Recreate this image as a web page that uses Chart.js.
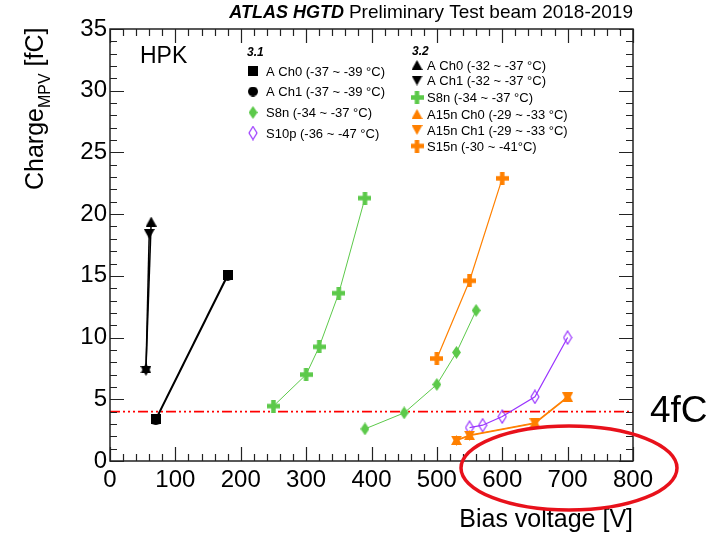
<!DOCTYPE html>
<html>
<head>
<meta charset="utf-8">
<script src="https://cdn.jsdelivr.net/npm/chart.js@4.4.0/dist/chart.umd.min.js"></script>
<style>
  html, body { margin: 0; padding: 0; background: #fff; }
  #wrap { width: 717px; height: 534px; }
</style>
</head>
<body>
<div id="wrap"><canvas id="chargeChart" width="717" height="534"></canvas></div>
<script>
// tick values
const xTickValues = [0, 100, 200, 300, 400, 500, 600, 700, 800];
const yTickValues = [0, 5, 10, 15, 20, 25, 30, 35];

// HPK 3.1 sensors (bias voltage [V], charge MPV [fC])
const a31Ch0V = [70, 180];
const a31Ch0Q = [3.4, 15.1];
const a31Ch1V = [70, 180];
const a31Ch1Q = [3.3, 15.0];
const s8n31V = [390, 450, 500, 530, 560];
const s8n31Q = [2.6, 3.9, 6.2, 8.8, 12.2];
const s10p31V = [550, 570, 600, 650, 700];
const s10p31Q = [2.7, 2.9, 3.6, 5.2, 10.0];

// HPK 3.2 sensors
const a32Ch0V = [55, 63];
const a32Ch0Q = [7.5, 19.4];
const a32Ch1V = [55, 60];
const a32Ch1Q = [7.3, 18.4];
const s8n32V = [250, 300, 320, 350, 390];
const s8n32Q = [4.45, 7.0, 9.25, 13.6, 21.3];
const a15Ch0V = [530, 550, 650, 700];
const a15Ch0Q = [1.7, 2.1, 3.1, 5.2];
const a15Ch1V = [530, 550, 650, 700];
const a15Ch1Q = [1.65, 2.05, 3.05, 5.15];
const s15nV = [500, 550, 600];
const s15nQ = [8.3, 14.6, 22.9];

// 4 fC threshold
const thresholdV = [0, 800];
const thresholdQ = [4, 4];

const GREEN = '#5cc94a';
const ORANGE = '#ff8000';
const PURPLE = '#9933ff';
const BLACK = '#000000';

// marker images, ROOT-like shapes
function makeMarker(kind, color) {
    const c = document.createElement('canvas');
    let w = 10, h = 10;
    if (kind === 'plus') { w = 13; h = 13; }
    if (kind === 'diamond') { w = 9; h = 13; }
    if (kind === 'diamondOpen') { w = 10; h = 15; }
    if (kind === 'triUp' || kind === 'triDown') { w = 11; h = 10; }
    c.width = w; c.height = h;
    const g = c.getContext('2d');
    g.fillStyle = color;
    g.strokeStyle = color;
    g.beginPath();
    if (kind === 'square') {
        g.rect(0, 0, w, h);
        g.fill();
    } else if (kind === 'circle') {
        g.arc(w / 2, h / 2, w / 2, 0, Math.PI * 2);
        g.fill();
    } else if (kind === 'plus') {
        g.rect(0, 4.25, w, 4.5);
        g.rect(4.25, 0, 4.5, h);
        g.fill();
    } else if (kind === 'diamond') {
        g.moveTo(w / 2, 0); g.lineTo(w, h / 2); g.lineTo(w / 2, h); g.lineTo(0, h / 2);
        g.closePath(); g.fill();
    } else if (kind === 'diamondOpen') {
        g.lineWidth = 1.2;
        g.moveTo(w / 2, 1); g.lineTo(w - 1, h / 2); g.lineTo(w / 2, h - 1); g.lineTo(1, h / 2);
        g.closePath(); g.stroke();
    } else if (kind === 'triUp') {
        g.moveTo(w / 2, 0); g.lineTo(w, h); g.lineTo(0, h);
        g.closePath(); g.fill();
    } else if (kind === 'triDown') {
        g.moveTo(0, 0); g.lineTo(w, 0); g.lineTo(w / 2, h);
        g.closePath(); g.fill();
    }
    return c;
}

const mk = {
    sqBlack: makeMarker('square', BLACK),
    circBlack: makeMarker('circle', BLACK),
    diaGreen: makeMarker('diamond', GREEN),
    diaPurple: makeMarker('diamondOpen', PURPLE),
    upBlack: makeMarker('triUp', BLACK),
    downBlack: makeMarker('triDown', BLACK),
    plusGreen: makeMarker('plus', GREEN),
    upOrange: makeMarker('triUp', ORANGE),
    downOrange: makeMarker('triDown', ORANGE),
    plusOrange: makeMarker('plus', ORANGE)
};

function pts(v, q) {
    return v.map((x, i) => ({ x: x, y: q[i] }));
}

function series(v, q, color, marker, width) {
    return {
        data: pts(v, q),
        showLine: true,
        borderColor: color,
        backgroundColor: color,
        borderWidth: width,
        pointStyle: marker,
        pointRadius: 6,
        pointHoverRadius: 6
    };
}

const legend31 = [
    [mk.sqBlack, 'A Ch0 (-37 ~ -39 \u00B0C)'],
    [mk.circBlack, 'A Ch1 (-37 ~ -39 \u00B0C)'],
    [mk.diaGreen, 'S8n (-34 ~ -37 \u00B0C)'],
    [mk.diaPurple, 'S10p (-36 ~ -47 \u00B0C)']
];
const legend32 = [
    [mk.upBlack, 'A Ch0 (-32 ~ -37 \u00B0C)'],
    [mk.downBlack, 'A Ch1 (-32 ~ -37 \u00B0C)'],
    [mk.plusGreen, 'S8n (-34 ~ -37 \u00B0C)'],
    [mk.upOrange, 'A15n Ch0 (-29 ~ -33 \u00B0C)'],
    [mk.downOrange, 'A15n Ch1 (-29 ~ -33 \u00B0C)'],
    [mk.plusOrange, 'S15n (-30 ~ -41\u00B0C)']
];

const FONT = '"Liberation Sans", Arial, Helvetica, sans-serif';

// frame, inner ticks, texts, legend and the annotation ellipse
const decorations = {
    id: 'decorations',
    afterDraw(chart) {
        const ctx = chart.ctx;
        const a = chart.chartArea;
        const xs = chart.scales.x, ys = chart.scales.y;
        ctx.save();

        // ticks on all four sides
        ctx.strokeStyle = '#222';
        ctx.lineWidth = 1.2;
        ctx.beginPath();
        for (let v = 0; v <= 800; v += 20) {
            const px = Math.round(xs.getPixelForValue(v)) + 0.5;
            const len = v % 100 === 0 ? 14 : 7;
            ctx.moveTo(px, a.bottom); ctx.lineTo(px, a.bottom - len);
            ctx.moveTo(px, a.top); ctx.lineTo(px, a.top + len);
        }
        for (let v = 0; v <= 35; v += 1) {
            const py = Math.round(ys.getPixelForValue(v)) + 0.5;
            const len = v % 5 === 0 ? 14 : 7;
            ctx.moveTo(a.left, py); ctx.lineTo(a.left + len, py);
            ctx.moveTo(a.right, py); ctx.lineTo(a.right - len, py);
        }
        ctx.stroke();
        ctx.lineWidth = 1.5;
        ctx.strokeRect(a.left, a.top, a.right - a.left, a.bottom - a.top);

        // title
        ctx.fillStyle = '#000';
        ctx.textBaseline = 'alphabetic';
        ctx.textAlign = 'right';
        ctx.font = '19px ' + FONT;
        const rest = 'Preliminary Test beam 2018-2019';
        ctx.fillText(rest, a.right, 18);
        const restW = ctx.measureText(rest).width;
        ctx.font = 'italic bold 18px ' + FONT;
        ctx.fillText('ATLAS HGTD', a.right - restW - 5, 18);

        // HPK
        ctx.textAlign = 'left';
        ctx.font = '23px ' + FONT;
        ctx.fillText('HPK', 140, 63);

        // legend headers
        ctx.font = 'italic bold 12px ' + FONT;
        ctx.fillText('3.1', 247, 56);
        ctx.fillText('3.2', 412, 55);

        // legend rows
        ctx.font = '13px ' + FONT;
        ctx.textBaseline = 'middle';
        const rows31 = [71, 91.5, 112.5, 133];
        legend31.forEach((r, i) => {
            const m = r[0];
            ctx.drawImage(m, 253 - m.width / 2, rows31[i] - m.height / 2);
            ctx.fillText(r[1], 266, rows31[i] + 1);
        });
        const rows32 = [65, 80.5, 97.5, 114, 130, 146];
        legend32.forEach((r, i) => {
            const m = r[0];
            ctx.drawImage(m, 417 - m.width / 2, rows32[i] - m.height / 2);
            ctx.fillText(r[1], 427, rows32[i] + 1);
        });

        // axis titles
        ctx.textBaseline = 'alphabetic';
        ctx.textAlign = 'right';
        ctx.font = '25px ' + FONT;
        ctx.fillText('Bias voltage [V]', a.right, 527);

        ctx.save();
        ctx.translate(43, 190);
        ctx.rotate(-Math.PI / 2);
        ctx.textAlign = 'left';
        ctx.font = '25px ' + FONT;
        ctx.fillText('Charge', 0, 0);
        let off = ctx.measureText('Charge').width;
        ctx.font = '16px ' + FONT;
        ctx.fillText('MPV', off, 7);
        off += ctx.measureText('MPV').width;
        ctx.font = '25px ' + FONT;
        ctx.fillText(' [fC]', off, 0);
        ctx.restore();

        // annotation
        ctx.textAlign = 'left';
        ctx.font = '37px ' + FONT;
        ctx.fillText('4fC', 650, 422);

        ctx.strokeStyle = '#e8111b';
        ctx.lineWidth = 3.5;
        ctx.beginPath();
        ctx.ellipse(569, 468, 108, 42, 0, 0, Math.PI * 2);
        ctx.stroke();

        ctx.restore();
    }
};

const ctx = document.getElementById('chargeChart').getContext('2d');
const chargeChart = new Chart(ctx, {
    type: 'scatter',
    data: {
        datasets: [
            series(a32Ch0V, a32Ch0Q, BLACK, mk.upBlack, 1.5),
            series(a32Ch1V, a32Ch1Q, BLACK, mk.downBlack, 1.5),
            series(a31Ch0V, a31Ch0Q, BLACK, mk.sqBlack, 1.5),
            series(a31Ch1V, a31Ch1Q, BLACK, mk.circBlack, 1.5),
            series(s8n32V, s8n32Q, GREEN, mk.plusGreen, 1),
            series(s8n31V, s8n31Q, GREEN, mk.diaGreen, 1),
            series(s15nV, s15nQ, ORANGE, mk.plusOrange, 1.2),
            series(a15Ch0V, a15Ch0Q, ORANGE, mk.upOrange, 1.2),
            series(a15Ch1V, a15Ch1Q, ORANGE, mk.downOrange, 1.2),
            series(s10p31V, s10p31Q, PURPLE, mk.diaPurple, 1.2),
            {
                data: pts(thresholdV, thresholdQ),
                showLine: true,
                borderColor: '#ff0000',
                borderWidth: 1.7,
                borderDash: [10, 3, 2, 3, 2, 3, 2, 3],
                pointRadius: 0,
                pointHoverRadius: 0
            }
        ]
    },
    options: {
        responsive: false,
        animation: false,
        layout: { padding: { top: 29, right: 84, left: 0, bottom: 0 } },
        plugins: {
            legend: { display: false },
            title: { display: false },
            tooltip: { enabled: false }
        },
        scales: {
            x: {
                type: 'linear',
                min: 0,
                max: 800,
                afterBuildTicks: s => { s.ticks = xTickValues.map(v => ({ value: v })); },
                afterFit: s => { s.height = 73; },
                grid: { display: false, drawTicks: false },
                border: { display: false },
                ticks: {
                    color: '#000',
                    padding: 5,
                    maxRotation: 0,
                    autoSkip: false,
                    font: { family: FONT, size: 24 }
                }
            },
            y: {
                type: 'linear',
                min: 0,
                max: 35,
                afterBuildTicks: s => { s.ticks = yTickValues.map(v => ({ value: v })); },
                afterFit: s => { s.width = 110; },
                grid: { display: false, drawTicks: false },
                border: { display: false },
                ticks: {
                    color: '#000',
                    padding: 3,
                    font: { family: FONT, size: 24 }
                }
            }
        }
    },
    plugins: [decorations]
});
</script>
</body>
</html>
